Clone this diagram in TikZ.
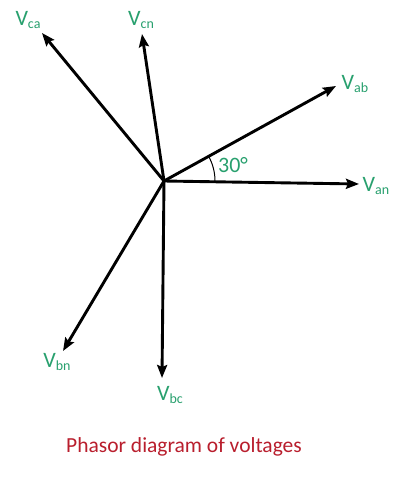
\documentclass[tikz,border=0pt]{standalone}
\usepackage{fontspec}
\setmainfont{Carlito}
\usetikzlibrary{arrows.meta}
\definecolor{lblgreen}{RGB}{40,160,110}
\definecolor{capred}{RGB}{185,30,45}
\tikzset{
  phasor/.style={line width=2.9pt,-{Stealth[length=13pt,width=10pt,inset=2pt]}},
  lbl/.style={text=lblgreen,font=\fontsize{22}{24}\selectfont,inner sep=0pt},
}
\newcommand{\Vs}[1]{V\raisebox{-2.5pt}{\fontsize{14}{15}\selectfont #1}}
\begin{document}
\begin{tikzpicture}[x=1pt,y=-1pt]
\useasboundingbox (0,0) rectangle (400,479);
\fill[white] (0,0) rectangle (400,479);
\coordinate (O) at (164,181);
\coordinate (ca) at (42,33);
\coordinate (cn) at (142,34);
\coordinate (ab) at (336,86);
\coordinate (an) at (359,184);
\coordinate (bn) at (63,351);
\coordinate (bc) at (162,378);
\draw[phasor] (O) -- (ca);
\draw[phasor] (O) -- (cn);
\draw[phasor] (O) -- (ab);
\draw[phasor] (O) -- (an);
\draw[phasor] (O) -- (bn);
\draw[phasor] (O) -- (bc);
\draw[line width=1pt] ([xshift=51pt]O) arc[start angle=0,end angle=29,radius=51pt];
\node[lbl] (lca) at (28,20) {\Vs{ca}};
\node[lbl] (lcn) at (141,20) {\Vs{cn}};
\node[lbl] (lab) at (355,84) {\Vs{ab}};
\node[lbl] (lan) at (376,186) {\Vs{an}};
\node[lbl] (lbn) at (57,362) {\Vs{bn}};
\node[lbl] (lbc) at (170,395) {\Vs{bc}};
\node[lbl] (ang) at (233,165) {30°};
\node[text=capred,font=\fontsize{21.5}{24}\selectfont,inner sep=0pt] (cap) at (184,447) {Phasor diagram of voltages};
\end{tikzpicture}
\end{document}
